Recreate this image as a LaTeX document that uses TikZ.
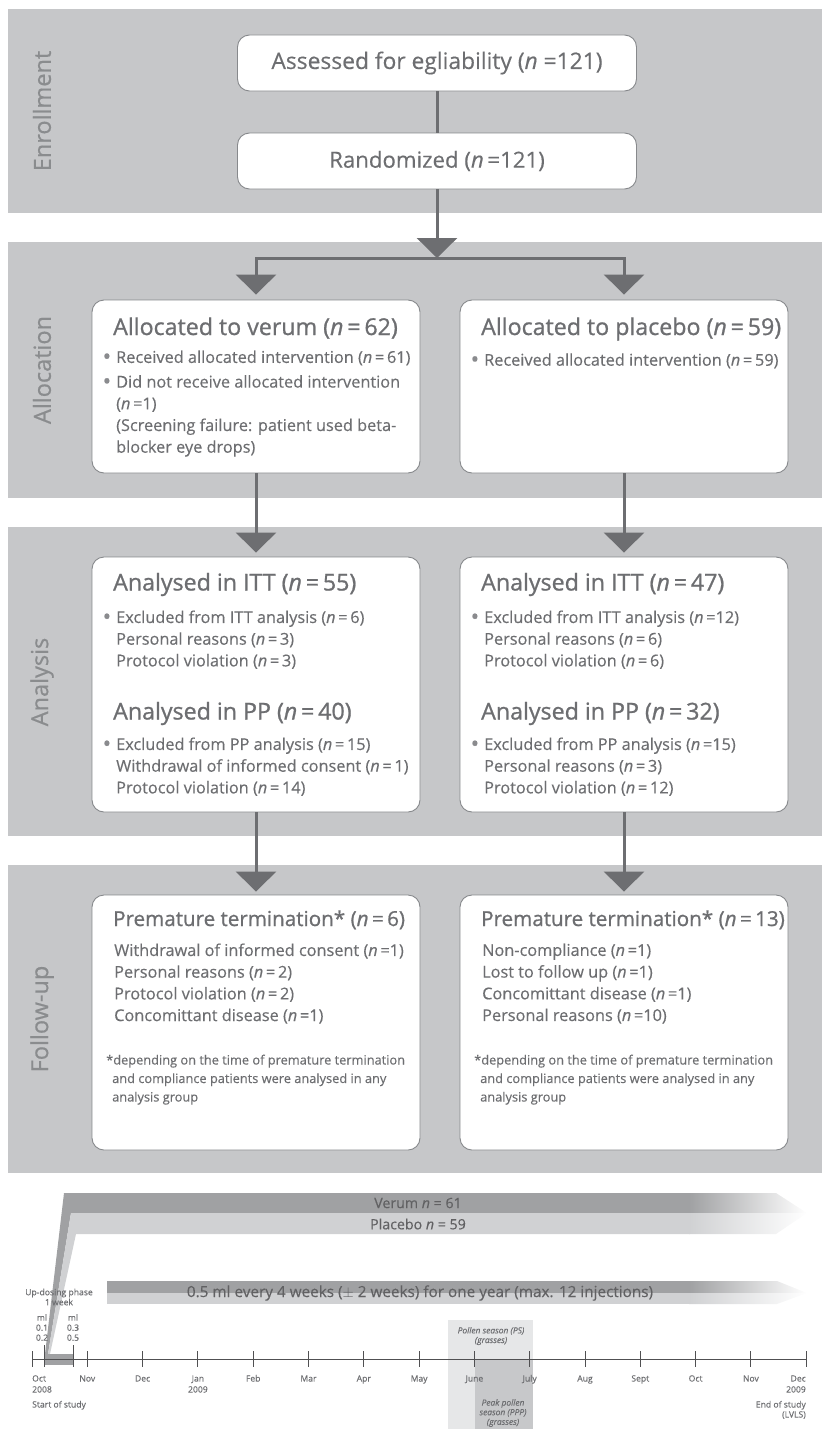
\documentclass[tikz,border=0pt]{standalone}
\usepackage{fontspec}
\setmainfont{Open Sans}
\newfontfamily\headfont[FakeBold=0.9]{Open Sans}
\newfontfamily\boxfont[FakeBold=0.3]{Open Sans}
\newfontfamily\phasefont[FakeBold=0.6]{Open Sans}
\usetikzlibrary{arrows.meta}

\definecolor{bandgray}{RGB}{198,199,201}
\definecolor{boxline}{RGB}{135,137,140}
\definecolor{txtgray}{RGB}{109,110,113}
\definecolor{labgray}{RGB}{138,140,142}
\definecolor{bardark}{RGB}{160,161,163}
\definecolor{barlight}{RGB}{208,209,211}
\definecolor{pollenlight}{RGB}{230,231,232}
\definecolor{pollendark}{RGB}{199,200,202}
\definecolor{axisgray}{RGB}{80,80,82}

\newcommand{\nn}{\textit{n}}
\newcommand{\bul}{\llap{\textcolor{txtgray!80}{\raisebox{-1.6pt}{\scalebox{1.4}{\textbullet}}}\hspace{5pt}}}

\tikzset{
  band/.style={fill=bandgray},
  phase/.style={rotate=90, text=labgray, font=\phasefont\fontsize{23.5}{24}\selectfont},
  ebox/.style={draw=boxline, line width=0.9pt, fill=white, rounded corners=12pt,
    minimum width=399pt, minimum height=56pt, text=txtgray, font=\boxfont\fontsize{22.8}{24}\selectfont},
  box/.style={draw=boxline, line width=0.9pt, fill=white, rounded corners=12pt,
    minimum width=328pt, minimum height=#1},
  head/.style={anchor=base west, inner sep=0pt, text=txtgray, font=\headfont\fontsize{23.2}{24}\selectfont},
  % multi-line texts: placed by the baseline of their first line
  body/.style={anchor=north west, yshift=11.2pt, inner sep=0pt, align=left, text=txtgray,
    font=\boxfont\fontsize{16.3}{21.7}\selectfont, execute at begin node=\strut},
  note/.style={anchor=north west, yshift=9pt, inner sep=0pt, align=left, text=txtgray,
    font=\boxfont\fontsize{12.8}{18.5}\selectfont, execute at begin node=\strut},
  link/.style={draw=txtgray, line width=3pt},
  flow/.style={link, -{Triangle[width=40pt,length=20pt]}},
  small/.style={inner sep=0pt, text=txtgray, font=\boxfont\fontsize{8.6}{10}\selectfont},
  season/.style={small, align=center, font=\boxfont\fontsize{8.4}{9.6}\selectfont\itshape},
  bartext/.style={inner sep=0pt, text=axisgray!90, font=\boxfont\fontsize{14.2}{16}\selectfont},
  axis/.style={draw=axisgray, line width=0.9pt}
}

\begin{document}
\begin{tikzpicture}[x=1pt,y=-1pt]
  \useasboundingbox (0,0) rectangle (822,1429);

  % phase bands
  \fill[band] (8,9) rectangle (822,213);
  \fill[band] (8,242) rectangle (822,498);
  \fill[band] (8,527) rectangle (822,836);
  \fill[band] (8,865) rectangle (822,1173);

  \node[phase] (enrol) at (42,111) {Enrollment};
  \node[phase] (alloc) at (42,370) {Allocation};
  \node[phase] (anal) at (42,682) {Analysis};
  \node[phase] (follow) at (42,1019) {Follow-up};

  % enrollment
  \node[ebox] (assess) at (437,63) {Assessed for egliability (\nn\ =121)};
  \node[ebox, font=\boxfont\fontsize{22.2}{24}\selectfont] (rand) at (437,161) {Randomized (\nn\,=121)};
  \coordinate (split) at (437,258);

  % boxes
  \node[box=173pt] (valloc) at (256,386.5) {};
  \node[box=173pt] (palloc) at (624,386.5) {};
  \node[box=255pt] (vana) at (256,684.5) {};
  \node[box=255pt] (pana) at (624,684.5) {};
  \node[box=255pt] (vfollow) at (256,1022.5) {};
  \node[box=255pt] (pfollow) at (624,1022.5) {};

  % connectors
  \draw[link] (assess) -- (rand);
  \draw[flow] (rand) -- (split);
  \draw[flow, shorten >=5pt] (split) -| (valloc.north);
  \draw[flow, shorten >=5pt] (split) -| (palloc.north);
  \draw[flow, shorten >=4pt] (valloc) -- (vana);
  \draw[flow, shorten >=4pt] (palloc) -- (pana);
  \draw[flow, shorten >=3pt] (vana) -- (vfollow);
  \draw[flow, shorten >=3pt] (pana) -- (pfollow);

  % allocation texts
  \node[head] (vallochd) at (113,335) {Allocated to verum (\nn\,=\,62)};
  \node[body] (vallocbd) at (116,361.5) {\bul Received allocated intervention (\nn\,=\,61)\\[3pt]
    \bul Did not receive allocated intervention\\(\nn\,=1)\\(Screening failure: patient used beta-\\blocker eye drops)};
  \node[head] (pallochd) at (481,335) {Allocated to placebo (\nn\,=\,59)};
  \node[body] (pallocbd) at (484,361.5) {\bul Received allocated intervention (\nn\,=\,59)};

  % analysis texts
  \node[head] (vitt) at (113,590.5) {Analysed in ITT (\nn\,=\,55)};
  \node[body] (vittbd) at (116,621.5) {\bul Excluded from ITT analysis (\nn\,=\,6)\\Personal reasons (\nn\,=\,3)\\Protocol violation (\nn\,=\,3)};
  \node[head] (vpp) at (113,719.5) {Analysed in PP (\nn\,=\,40)};
  \node[body] (vppbd) at (116,748.5) {\bul Excluded from PP analysis (\nn\,=\,15)\\Withdrawal of informed consent (\nn\,=\,1)\\Protocol violation (\nn\,=\,14)};
  \node[head] (pitt) at (481,590.5) {Analysed in ITT (\nn\,=\,47)};
  \node[body] (pittbd) at (484,621.5) {\bul Excluded from ITT analysis (\nn\,=12)\\Personal reasons (\nn\,=\,6)\\Protocol violation (\nn\,=\,6)};
  \node[head] (ppp) at (481,719.5) {Analysed in PP (\nn\,=\,32)};
  \node[body] (pppbd) at (484,748.5) {\bul Excluded from PP analysis (\nn\,=15)\\Personal reasons (\nn\,=\,3)\\Protocol violation (\nn\,=\,12)};

  % follow-up texts
  \node[head, font=\headfont\fontsize{20.6}{24}\selectfont] (vterm) at (113,926) {Premature termination* (\nn\,=\,6)};
  \node[body] (vtermbd) at (114,954.5) {Withdrawal of informed consent (\nn\,=1)\\Personal reasons (\nn\,=\,2)\\Protocol violation (\nn\,=\,2)\\Concomittant disease (\nn\,=1)};
  \node[note] (vnote) at (106,1063.5) {*depending on the time of premature termination\\\hspace{6pt}and compliance patients were analysed in any\\\hspace{6pt}analysis group};
  \node[head, font=\headfont\fontsize{20.6}{24}\selectfont] (pterm) at (481,926) {Premature termination* (\nn\,=\,13)};
  \node[body] (ptermbd) at (482,954.5) {Non-compliance (\nn\,=1)\\Lost to follow up (\nn\,=1)\\Concomittant disease (\nn\,=1)\\Personal reasons (\nn\,=10)};
  \node[note] (pnote) at (474,1063.5) {*depending on the time of premature termination\\\hspace{6pt}and compliance patients were analysed in any\\\hspace{6pt}analysis group};

  % treatment bars
  \fill[bardark] (45,1354) -- (64,1193) -- (690,1193) -- (690,1213) -- (71,1213) -- (48,1354) -- cycle;
  \fill[barlight] (48,1354) -- (71,1213) -- (690,1213) -- (690,1234) -- (76,1234) -- (50,1354) -- cycle;
  \shade[left color=bardark, right color=white] (689,1193) -- (776,1193) -- (807,1213) -- (689,1213) -- cycle;
  \shade[left color=barlight, right color=white] (689,1213) -- (807,1213) -- (776,1234) -- (689,1234) -- cycle;
  \node[bartext] (verum) at (418,1203) {Verum \nn\ = 61};
  \node[bartext] (placebo) at (418,1224) {Placebo \nn\ = 59};

  \fill[bardark] (107,1281) rectangle (690,1293);
  \fill[barlight] (107,1293) rectangle (690,1304);
  \shade[left color=bardark, right color=white] (689,1281) -- (777,1281) -- (807,1293) -- (689,1293) -- cycle;
  \shade[left color=barlight, right color=white] (689,1293) -- (807,1293) -- (777,1304) -- (689,1304) -- cycle;
  \node[bartext, font=\boxfont\fontsize{15.3}{18}\selectfont] (dosing) at (420,1293) {0.5 ml every 4 weeks ($\pm$ 2 weeks) for one year (max. 12 injections)};

  % pollen seasons
  \fill[pollenlight] (448,1320) rectangle (533,1429);
  \fill[pollendark] (475,1359) rectangle (533,1429);
  \node[season] (ps) at (491,1336) {Pollen season (PS)\\(grasses)};
  \node[season] (ppp) at (503,1413) {Peak pollen\\season (PPP)\\(grasses)};

  % up-dosing
  \fill[bardark] (44,1354) rectangle (73,1365);
  \node[small, align=center] (updose) at (59,1297) {Up-dosing phase\\1 week};
  \node[small, align=center] (mla) at (42,1327.5) {ml\\0.1\\0.2};
  \node[small, align=center] (mlb) at (73,1327.5) {ml\\0.3\\0.5};

  % time axis
  \draw[axis] (32,1359) -- (806,1359);
  \draw[axis] (44,1345) -- (44,1367);
  \draw[axis] (73,1345) -- (73,1367);
  \foreach \m [count=\i from 0, evaluate=\i as \x using 32+55.3*\i] in {Oct,Nov,Dec,Jan,Feb,Mar,Apr,May,June,July,Aug,Sept,Oct,Nov,Dec}{
    \draw[axis] (\x,1351) -- (\x,1367);
  }
  \foreach \m [count=\i from 1, evaluate=\i as \x using 32+55.3*\i] in {Nov,Dec,Jan,Feb,Mar,Apr,May,June,July,Aug,Sept,Oct,Nov}{
    \node[small, anchor=base] (m\i) at (\x,1381.5) {\m};
  }
  \node[small, anchor=base west] (oct) at (32,1381.5) {Oct};
  \node[small, anchor=base west] (y2008) at (32,1392.5) {2008};
  \node[small, anchor=base west] (start) at (32,1407.5) {Start of study};
  \node[small, anchor=base] (y2009) at (197.9,1392.5) {2009};
  \node[small, anchor=base east] (dec) at (806,1381.5) {Dec};
  \node[small, anchor=base east] (y2009b) at (806,1392.5) {2009};
  \node[small, anchor=base east] (end) at (806,1407.5) {End of study};
  \node[small, anchor=base east] (lvls) at (806,1417.5) {(LVLS)};
\end{tikzpicture}
\end{document}
